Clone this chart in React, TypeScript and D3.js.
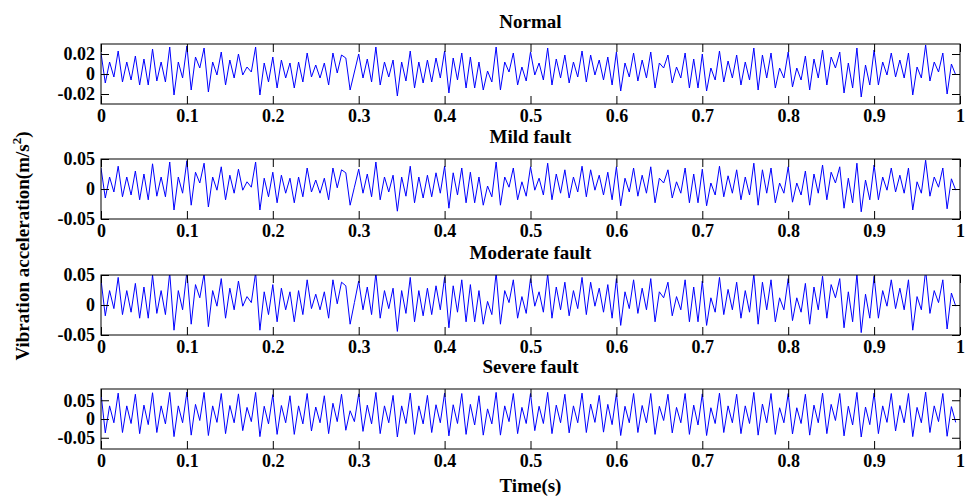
import React, { useEffect, useRef } from "react";
import * as d3 from "d3";

// time between two samples of a record (s)
const SAMPLE_STEP = 0.005;

const panelTitles = ["Normal", "Mild fault", "Moderate fault", "Severe fault"];
const yLimits = [0.03, 0.05, 0.05, 0.08];
const yTickValues = [
  [-0.02, 0, 0.02],
  [-0.05, 0, 0.05],
  [-0.05, 0, 0.05],
  [-0.05, 0, 0.05],
];
const yTickLabels = [
  ["-0.02", "0", "0.02"],
  ["-0.05", "0", "0.05"],
  ["-0.05", "0", "0.05"],
  ["-0.05", "0", "0.05"],
];
const xTickValues = [0, 0.1, 0.2, 0.3, 0.4, 0.5, 0.6, 0.7, 0.8, 0.9, 1];
const xTickLabels = ["0", "0.1", "0.2", "0.3", "0.4", "0.5", "0.6", "0.7", "0.8", "0.9", "1"];

const normalSignal = [
  0.021, -0.009, 0.012, -0.003, 0.023, -0.008, 0.012, -0.006, 0.018, -0.011, 0.015, -0.011,
  0.025, -0.007, 0.012, -0.008, 0.027, -0.021, 0.012, -0.004, 0.028, -0.016, 0.017, 0.006,
  0.026, -0.018, 0.012, -0.001, 0.022, -0.011, 0.014, -0.004, 0.02, -0.001, 0.007, 0.002,
  0.027, -0.021, 0.011, -0.008, 0.017, -0.014, 0.014, -0.004, 0.011, -0.014, 0.012, -0.008,
  0.021, -0.003, 0.009, -0.004, 0.011, -0.011, 0.021, 0.001, 0.019, 0.016, -0.016, 0.002,
  0.02, -0.004, 0.015, -0.008, 0.027, -0.011, 0.012, -0.003, 0.014, -0.022, 0.012, -0.007,
  0.023, -0.014, 0.012, -0.009, 0.014, -0.008, 0.016, -0.004, 0.023, -0.019, 0.016, -0.006,
  0.021, -0.014, 0.017, -0.014, 0.012, -0.016, 0.003, -0.008, 0.027, -0.016, 0.012, 0.002,
  0.021, -0.011, 0.007, -0.007, 0.022, -0.001, 0.011, -0.006, 0.026, -0.011, 0.015, -0.004,
  0.019, -0.009, 0.012, -0.003, 0.023, -0.008, 0.019, -0.001, 0.014, -0.006, 0.017, -0.011,
  0.022, -0.017, 0.011, -0.003, 0.021, -0.007, 0.014, -0.004, 0.022, -0.014, 0.011, 0.006,
  0.019, -0.009, 0.007, -0.004, 0.021, -0.014, 0.015, -0.014, 0.02, -0.017, 0.006, -0.006,
  0.023, -0.008, 0.013, -0.004, 0.019, -0.011, 0.012, -0.006, 0.026, -0.016, 0.019, -0.004,
  0.021, -0.014, 0.006, -0.004, 0.022, -0.013, 0.006, -0.006, 0.018, -0.016, 0.015, -0.004,
  0.024, -0.011, 0.017, 0.006, 0.022, -0.019, 0.011, -0.014, 0.026, -0.023, 0.009, -0.011,
  0.024, -0.011, 0.012, -0.001, 0.021, -0.003, 0.014, -0.004, 0.021, -0.021, 0.007, -0.004,
  0.029, -0.007, 0.012, 0.002, 0.021, -0.02, 0.01, -0.001,
];

const mildSignal = [
  0.035, -0.015, 0.02, -0.005, 0.038, -0.013, 0.02, -0.01, 0.03, -0.018, 0.025, -0.018,
  0.042, -0.012, 0.02, -0.013, 0.045, -0.035, 0.02, -0.007, 0.047, -0.027, 0.028, 0.01,
  0.043, -0.03, 0.02, -0.002, 0.037, -0.018, 0.023, -0.007, 0.033, -0.002, 0.012, 0.003,
  0.045, -0.035, 0.018, -0.013, 0.028, -0.023, 0.023, -0.007, 0.018, -0.023, 0.02, -0.013,
  0.035, -0.005, 0.015, -0.007, 0.018, -0.018, 0.035, 0.002, 0.032, 0.027, -0.027, 0.003,
  0.033, -0.007, 0.025, -0.013, 0.045, -0.018, 0.02, -0.005, 0.023, -0.037, 0.02, -0.012,
  0.038, -0.023, 0.02, -0.015, 0.023, -0.013, 0.027, -0.007, 0.038, -0.032, 0.027, -0.01,
  0.035, -0.023, 0.028, -0.023, 0.02, -0.027, 0.005, -0.013, 0.045, -0.027, 0.02, 0.003,
  0.035, -0.018, 0.012, -0.012, 0.037, -0.002, 0.018, -0.01, 0.043, -0.018, 0.025, -0.007,
  0.032, -0.015, 0.02, -0.005, 0.038, -0.013, 0.032, -0.002, 0.023, -0.01, 0.028, -0.018,
  0.037, -0.028, 0.018, -0.005, 0.035, -0.012, 0.023, -0.007, 0.037, -0.023, 0.018, 0.01,
  0.032, -0.015, 0.012, -0.007, 0.035, -0.023, 0.025, -0.023, 0.033, -0.028, 0.01, -0.01,
  0.038, -0.013, 0.022, -0.007, 0.032, -0.018, 0.02, -0.01, 0.043, -0.027, 0.032, -0.007,
  0.035, -0.023, 0.01, -0.007, 0.037, -0.022, 0.01, -0.01, 0.03, -0.027, 0.025, -0.007,
  0.04, -0.018, 0.028, 0.01, 0.037, -0.032, 0.018, -0.023, 0.043, -0.038, 0.015, -0.018,
  0.04, -0.018, 0.02, -0.002, 0.035, -0.005, 0.023, -0.007, 0.035, -0.035, 0.012, -0.007,
  0.048, -0.012, 0.02, 0.003, 0.035, -0.033, 0.017, -0.002,
];

const moderateSignal = [
  0.042, -0.018, 0.024, -0.006, 0.046, -0.016, 0.024, -0.012, 0.036, -0.022, 0.03, -0.022,
  0.05, -0.014, 0.024, -0.016, 0.054, -0.042, 0.024, -0.008, 0.056, -0.032, 0.034, 0.012,
  0.052, -0.036, 0.024, -0.002, 0.044, -0.022, 0.028, -0.008, 0.04, -0.002, 0.014, 0.004,
  0.054, -0.042, 0.022, -0.016, 0.034, -0.028, 0.028, -0.008, 0.022, -0.028, 0.024, -0.016,
  0.042, -0.006, 0.018, -0.008, 0.022, -0.022, 0.042, 0.002, 0.038, 0.032, -0.032, 0.004,
  0.04, -0.008, 0.03, -0.016, 0.054, -0.022, 0.024, -0.006, 0.028, -0.044, 0.024, -0.014,
  0.046, -0.028, 0.024, -0.018, 0.028, -0.016, 0.032, -0.008, 0.046, -0.038, 0.032, -0.012,
  0.042, -0.028, 0.034, -0.028, 0.024, -0.032, 0.006, -0.016, 0.054, -0.032, 0.024, 0.004,
  0.042, -0.022, 0.014, -0.014, 0.044, -0.002, 0.022, -0.012, 0.052, -0.022, 0.03, -0.008,
  0.038, -0.018, 0.024, -0.006, 0.046, -0.016, 0.038, -0.002, 0.028, -0.012, 0.034, -0.022,
  0.044, -0.034, 0.022, -0.006, 0.042, -0.014, 0.028, -0.008, 0.044, -0.028, 0.022, 0.012,
  0.038, -0.018, 0.014, -0.008, 0.042, -0.028, 0.03, -0.028, 0.04, -0.034, 0.012, -0.012,
  0.046, -0.016, 0.026, -0.008, 0.038, -0.022, 0.024, -0.012, 0.052, -0.032, 0.038, -0.008,
  0.042, -0.028, 0.012, -0.008, 0.044, -0.026, 0.012, -0.012, 0.036, -0.032, 0.03, -0.008,
  0.048, -0.022, 0.034, 0.012, 0.044, -0.038, 0.022, -0.028, 0.052, -0.046, 0.018, -0.022,
  0.048, -0.022, 0.024, -0.002, 0.042, -0.006, 0.028, -0.008, 0.042, -0.042, 0.014, -0.008,
  0.058, -0.014, 0.024, 0.004, 0.042, -0.04, 0.02, -0.002,
];

const severeSignal = [
  0.068, -0.037, 0.035, -0.01, 0.069, -0.036, 0.035, -0.012, 0.066, -0.039, 0.037, -0.015,
  0.07, -0.036, 0.035, -0.013, 0.071, -0.047, 0.035, -0.01, 0.072, -0.043, 0.039, -0.004,
  0.071, -0.044, 0.035, -0.009, 0.068, -0.039, 0.036, -0.01, 0.067, -0.031, 0.031, -0.007,
  0.071, -0.047, 0.034, -0.013, 0.065, -0.041, 0.036, -0.01, 0.062, -0.041, 0.035, -0.013,
  0.068, -0.032, 0.032, -0.01, 0.062, -0.039, 0.042, -0.007, 0.066, -0.03, 0.022, -0.007,
  0.067, -0.033, 0.037, -0.013, 0.071, -0.039, 0.035, -0.01, 0.063, -0.048, 0.035, -0.012,
  0.069, -0.041, 0.035, -0.013, 0.063, -0.036, 0.038, -0.01, 0.069, -0.045, 0.038, -0.012,
  0.068, -0.041, 0.039, -0.016, 0.062, -0.043, 0.027, -0.013, 0.071, -0.043, 0.035, -0.007,
  0.068, -0.039, 0.031, -0.012, 0.068, -0.031, 0.034, -0.012, 0.071, -0.039, 0.037, -0.01,
  0.066, -0.037, 0.035, -0.01, 0.069, -0.036, 0.04, -0.009, 0.063, -0.035, 0.039, -0.015,
  0.068, -0.044, 0.034, -0.01, 0.068, -0.036, 0.036, -0.01, 0.068, -0.041, 0.034, -0.004,
  0.066, -0.037, 0.031, -0.01, 0.068, -0.041, 0.037, -0.016, 0.067, -0.044, 0.03, -0.012,
  0.069, -0.036, 0.035, -0.01, 0.066, -0.039, 0.035, -0.012, 0.071, -0.043, 0.04, -0.01,
  0.068, -0.041, 0.03, -0.01, 0.068, -0.04, 0.03, -0.012, 0.066, -0.043, 0.037, -0.01,
  0.069, -0.039, 0.039, -0.004, 0.068, -0.045, 0.034, -0.016, 0.071, -0.048, 0.032, -0.015,
  0.069, -0.039, 0.035, -0.009, 0.068, -0.032, 0.036, -0.01, 0.068, -0.047, 0.031, -0.01,
  0.072, -0.036, 0.035, -0.007, 0.068, -0.046, 0.033, -0.009,
];

const App = () => {
  const svgRef = useRef<SVGSVGElement | null>(null);

  useEffect(() => {
    document.body.style.margin = "0";
    const svg = d3.select(svgRef.current);
    svg.selectAll("*").remove();

    const left = 101;
    const right = 960;
    const panelHeight = 60;
    const panelTops = [44, 159, 275, 389];
    const font = "'Times New Roman', 'Liberation Serif', serif";

    const x = d3.scaleLinear().domain([0, 1]).range([left, right]);
    const signals = [normalSignal, mildSignal, moderateSignal, severeSignal];

    signals.forEach((signal, k) => {
      const top = panelTops[k];
      const bottom = top + panelHeight;
      const y = d3
        .scaleLinear()
        .domain([-yLimits[k], yLimits[k]])
        .range([bottom, top]);

      const g = svg.append("g");

      g.append("clipPath")
        .attr("id", "clip" + k)
        .append("rect")
        .attr("x", left)
        .attr("y", top)
        .attr("width", right - left)
        .attr("height", panelHeight);

      const line = d3
        .line<number>()
        .x((d, i) => x(i * SAMPLE_STEP))
        .y((d) => y(d));

      g.append("path")
        .datum(signal)
        .attr("clip-path", `url(#clip${k})`)
        .attr("fill", "none")
        .attr("stroke", "#0000ff")
        .attr("stroke-width", 1)
        .attr("d", line);

      // ticks point inwards on all four sides, labels only bottom / left
      g.append("g")
        .attr("transform", `translate(0,${bottom})`)
        .call(
          d3
            .axisBottom(x)
            .tickValues(xTickValues)
            .tickFormat((d, i) => xTickLabels[i])
            .tickSizeInner(-8)
            .tickSizeOuter(0)
            .tickPadding(5)
        );
      g.append("g")
        .attr("transform", `translate(0,${top})`)
        .call(
          d3
            .axisTop(x)
            .tickValues(xTickValues)
            .tickFormat(() => "")
            .tickSizeInner(-8)
            .tickSizeOuter(0)
        );
      g.append("g")
        .attr("transform", `translate(${left},0)`)
        .call(
          d3
            .axisLeft(y)
            .tickValues(yTickValues[k])
            .tickFormat((d, i) => yTickLabels[k][i])
            .tickSizeInner(-8)
            .tickSizeOuter(0)
            .tickPadding(6)
        );
      g.append("g")
        .attr("transform", `translate(${right},0)`)
        .call(
          d3
            .axisRight(y)
            .tickValues(yTickValues[k])
            .tickFormat(() => "")
            .tickSizeInner(-8)
            .tickSizeOuter(0)
        );

      g.selectAll(".domain").remove();
      g.selectAll(".tick line").attr("stroke", "#000");
      g.selectAll(".tick text")
        .attr("font-family", font)
        .attr("font-size", 18)
        .attr("font-weight", "bold")
        .attr("fill", "#000");

      g.append("rect")
        .attr("x", left)
        .attr("y", top)
        .attr("width", right - left)
        .attr("height", panelHeight)
        .attr("fill", "none")
        .attr("stroke", "#000")
        .attr("stroke-width", 1);

      g.append("text")
        .attr("x", (left + right) / 2)
        .attr("y", top - 16)
        .attr("text-anchor", "middle")
        .attr("font-family", font)
        .attr("font-size", 19)
        .attr("font-weight", "bold")
        .text(panelTitles[k]);
    });

    // shared axis titles
    const yLabel = svg
      .append("text")
      .attr("transform", "translate(29,246) rotate(-90)")
      .attr("text-anchor", "middle")
      .attr("font-family", font)
      .attr("font-size", 19)
      .attr("font-weight", "bold");
    yLabel.append("tspan").text("Vibration acceleration(m/s");
    yLabel.append("tspan").attr("dy", -8).attr("font-size", 13).text("2");
    yLabel.append("tspan").attr("dy", 8).text(")");

    svg
      .append("text")
      .attr("x", (left + right) / 2)
      .attr("y", 492)
      .attr("text-anchor", "middle")
      .attr("font-family", font)
      .attr("font-size", 19)
      .attr("font-weight", "bold")
      .text("Time(s)");
  }, []);

  return (
    <svg
      ref={svgRef}
      width={965}
      height={497}
      style={{ display: "block", background: "#fff" }}
    />
  );
};

export default App;
